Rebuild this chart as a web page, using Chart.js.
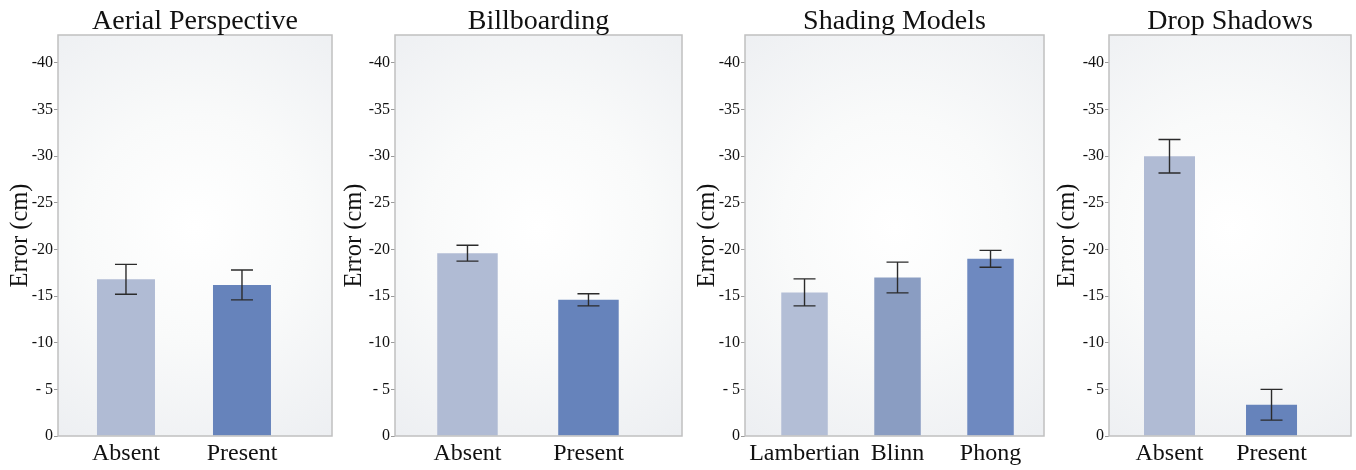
<!DOCTYPE html>
<html>
<head>
<meta charset="utf-8">
<script src="https://cdn.jsdelivr.net/npm/chart.js@4/dist/chart.umd.min.js"></script>
<style>
  html, body { margin: 0; padding: 0; background: #ffffff; }
  #wrap { position: relative; width: 1356px; height: 470px; overflow: hidden; }
  canvas { position: absolute; top: 0; }
</style>
</head>
<body>
<div id="wrap"></div>
<script>
// ---- data ----
const panelTitles = ['Aerial Perspective', 'Billboarding', 'Shading Models', 'Drop Shadows'];

const aerialCats = ['Absent', 'Present'];
const aerialMeans = [-16.8, -16.2];
const aerialErr = [1.6, 1.6];

const billboardCats = ['Absent', 'Present'];
const billboardMeans = [-19.6, -14.6];
const billboardErr = [0.85, 0.65];

const shadingCats = ['Lambertian', 'Blinn', 'Phong'];
const shadingMeans = [-15.4, -17.0, -19.0];
const shadingErr = [1.45, 1.65, 0.9];

const shadowCats = ['Absent', 'Present'];
const shadowMeans = [-30.0, -3.35];
const shadowErr = [1.8, 1.65];

const yTickValues = [0, -5, -10, -15, -20, -25, -30, -35, -40];
const yAxisTitle = 'Error (cm)';

// ---- styling ----
const FONT = "'Liberation Serif', 'DejaVu Serif', serif";
const lightBlue = '#b0bbd4';
const darkBlue = '#6683bb';
const shadingColors = ['#b3bed6', '#8a9dc2', '#6e89c0'];

const panels = [
  { title: panelTitles[0], cats: aerialCats, means: aerialMeans, err: aerialErr,
    colors: [lightBlue, darkBlue], left: 3, width: 337, yWidth: 55, padRight: 8, xMin: -0.586, xMax: 1.776 },
  { title: panelTitles[1], cats: billboardCats, means: billboardMeans, err: billboardErr,
    colors: [lightBlue, darkBlue], left: 337, width: 353, yWidth: 58, padRight: 8, xMin: -0.599, xMax: 1.773 },
  { title: panelTitles[2], cats: shadingCats, means: shadingMeans, err: shadingErr,
    colors: shadingColors, left: 690, width: 360, yWidth: 55, padRight: 6, xMin: -0.64, xMax: 2.575 },
  { title: panelTitles[3], cats: shadowCats, means: shadowMeans, err: shadowErr,
    colors: [lightBlue, darkBlue], left: 1050, width: 306, yWidth: 59, padRight: 5, xMin: -0.593, xMax: 1.779 }
];

// Plot-area backdrop: soft radial shading with a thin grey frame.
const frameBackdrop = {
  id: 'frameBackdrop',
  beforeDraw(chart) {
    const { ctx, chartArea: a } = chart;
    const cx = (a.left + a.right) / 2, cy = a.top + (a.bottom - a.top) * 0.48;
    const r = Math.max(a.right - a.left, a.bottom - a.top) * 0.62;
    const g = ctx.createRadialGradient(cx, cy, 0, cx, cy, r);
    g.addColorStop(0, '#ffffff');
    g.addColorStop(0.45, '#f9fafa');
    g.addColorStop(1, '#edeff2');
    ctx.save();
    ctx.fillStyle = g;
    ctx.fillRect(a.left, a.top, a.right - a.left, a.bottom - a.top);
    ctx.restore();
  },
  afterDraw(chart) {
    const { ctx, chartArea: a } = chart;
    ctx.save();
    ctx.strokeStyle = '#c0c0c0';
    ctx.lineWidth = 1.5;
    ctx.strokeRect(a.left, a.top, a.right - a.left, a.bottom - a.top);
    ctx.restore();
  }
};

// Error bars with caps, placed through the chart's own scales.
const errorBars = {
  id: 'errorBars',
  afterDatasetsDraw(chart, args, opts) {
    const { ctx } = chart;
    const xs = chart.scales.x, ys = chart.scales.y;
    const ds = chart.data.datasets[0];
    ctx.save();
    ctx.strokeStyle = '#2b2b2b';
    ctx.lineWidth = 1.4;
    ds.data.forEach((p, i) => {
      const e = opts.errors[i];
      const x = xs.getPixelForValue(p.x);
      const yHi = ys.getPixelForValue(p.y - e);
      const yLo = ys.getPixelForValue(p.y + e);
      const half = 11;
      ctx.beginPath();
      ctx.moveTo(x, yHi); ctx.lineTo(x, yLo);
      ctx.moveTo(x - half, yHi); ctx.lineTo(x + half, yHi);
      ctx.moveTo(x - half, yLo); ctx.lineTo(x + half, yLo);
      ctx.stroke();
    });
    ctx.restore();
  }
};

// Panel heading centred over the plot area.
const panelHeading = {
  id: 'panelHeading',
  afterDraw(chart, args, opts) {
    const { ctx, chartArea: a } = chart;
    ctx.save();
    ctx.font = `28px ${FONT}`;
    ctx.fillStyle = '#111111';
    ctx.textAlign = 'center';
    ctx.textBaseline = 'alphabetic';
    ctx.fillText(opts.text, (a.left + a.right) / 2, 29);
    ctx.restore();
  }
};

function tickLabel(v) {
  if (v === 0) return '0';
  const n = -v;
  return n < 10 ? '- ' + n : '-' + n;
}

const wrap = document.getElementById('wrap');

panels.forEach((p) => {
  const cv = document.createElement('canvas');
  cv.width = p.width;
  cv.height = 470;
  cv.style.left = p.left + 'px';
  cv.style.width = p.width + 'px';
  cv.style.height = '470px';
  wrap.appendChild(cv);

  new Chart(cv, {
    type: 'bar',
    data: {
      datasets: [{
        data: p.means.map((m, i) => ({ x: i, y: m })),
        backgroundColor: p.colors,
        borderWidth: 0,
        barPercentage: 0.5,
        categoryPercentage: 1.0
      }]
    },
    options: {
      responsive: false,
      animation: false,
      devicePixelRatio: 1,
      layout: { padding: { top: 35, right: p.padRight, left: 0, bottom: 0 } },
      plugins: {
        legend: { display: false },
        tooltip: { enabled: false },
        title: { display: false },
        errorBars: { errors: p.err },
        panelHeading: { text: p.title }
      },
      scales: {
        x: {
          type: 'linear',
          min: p.xMin,
          max: p.xMax,
          offset: false,
          grid: { display: false, drawTicks: false },
          border: { display: false },
          afterBuildTicks(s) { s.ticks = p.cats.map((c, i) => ({ value: i })); },
          afterFit(s) { s.height = 34; },
          ticks: {
            autoSkip: false,
            maxRotation: 0,
            padding: 3,
            color: '#111111',
            font: { family: FONT, size: 24 },
            callback: (v) => p.cats[v]
          }
        },
        y: {
          type: 'linear',
          reverse: true,
          min: -43,
          max: 0,
          grid: { drawOnChartArea: false, drawTicks: true, tickLength: 4, color: '#9a9a9a', lineWidth: 1 },
          border: { display: false },
          afterBuildTicks(s) { s.ticks = yTickValues.map(v => ({ value: v })); },
          afterFit(s) { s.width = p.yWidth; },
          ticks: {
            padding: 1,
            color: '#111111',
            font: { family: FONT, size: 16 },
            callback: (v) => tickLabel(v)
          },
          title: {
            display: true,
            text: yAxisTitle,
            color: '#111111',
            font: { family: FONT, size: 24.5 },
            padding: { top: 3, bottom: 0 }
          }
        }
      }
    },
    plugins: [frameBackdrop, errorBars, panelHeading]
  });
});
</script>
</body>
</html>
